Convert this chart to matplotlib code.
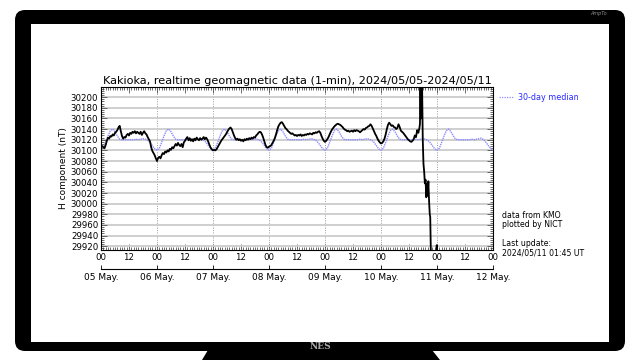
import numpy as np
import matplotlib
matplotlib.use("Agg")
import matplotlib.pyplot as plt
from matplotlib.patches import FancyBboxPatch, Polygon, Rectangle
from matplotlib.lines import Line2D
from matplotlib.ticker import MultipleLocator, FixedLocator

# H component, half-hour readings from 2024/05/05 00:00 (hours)
h_main = [
    # 05 May
    30110, 30108, 30106, 30104, 30110, 30118, 30124, 30122, 30127, 30126, 30130, 30128,
    30133, 30135, 30138, 30143, 30146, 30136, 30127, 30122, 30125, 30124, 30129, 30131,
    30128, 30133, 30131, 30135, 30133, 30136, 30132, 30135, 30133, 30131, 30135, 30129,
    30133, 30136, 30132, 30130, 30125, 30121, 30117, 30106, 30099, 30095, 30091, 30085,
    # 06 May
    30080, 30086, 30088, 30085, 30091, 30095, 30093, 30098, 30096, 30100, 30098, 30103,
    30101, 30106, 30104, 30108, 30112, 30109, 30114, 30110, 30108, 30112, 30106, 30115,
    30118, 30122, 30125, 30119, 30123, 30118, 30121, 30117, 30122, 30119, 30124, 30121,
    30119, 30123, 30120, 30122, 30125, 30121, 30124, 30121, 30116, 30110, 30105, 30102,
    # 07 May
    30100, 30101, 30100, 30102, 30106, 30110, 30114, 30118, 30121, 30124, 30127, 30130,
    30134, 30138, 30141, 30143, 30140, 30134, 30128, 30123, 30120, 30122, 30119, 30121,
    30118, 30120, 30117, 30121, 30119, 30122, 30120, 30123, 30121, 30124, 30122, 30125,
    30124, 30128, 30130, 30133, 30135, 30134, 30130, 30124, 30117, 30110, 30106, 30105,
    # 08 May
    30107, 30108, 30110, 30114, 30118, 30123, 30130, 30138, 30145, 30149, 30152, 30153,
    30150, 30146, 30142, 30140, 30137, 30135, 30133, 30131, 30132, 30130, 30128, 30129,
    30127, 30129, 30128, 30130, 30127, 30129, 30128, 30130, 30129, 30131, 30130, 30132,
    30131, 30130, 30133, 30132, 30134, 30133, 30135, 30136, 30133, 30127, 30122, 30118,
    # 09 May
    30116, 30118, 30121, 30125, 30130, 30135, 30139, 30142, 30145, 30147, 30149, 30150,
    30149, 30148, 30146, 30144, 30141, 30139, 30138, 30136, 30137, 30135, 30136, 30137,
    30135, 30138, 30136, 30138, 30137, 30136, 30134, 30136, 30138, 30140, 30139, 30142,
    30143, 30145, 30146, 30149, 30146, 30141, 30136, 30131, 30127, 30122, 30118, 30115,
    # 10 May
    30113, 30114, 30117, 30122, 30130, 30140, 30148, 30152, 30149, 30146, 30147, 30144,
    30143, 30140, 30142, 30149, 30144, 30137, 30135, 30133, 30130, 30127, 30124, 30121,
    30119, 30117, 30116, 30118, 30121, 30128, 30125, 30138, 30133, 30143,
]
h_main_time = np.arange(len(h_main)) * 0.5

# storm onset, 10 May evening
storm_time = [136.7, 136.9, 137.1, 137.3, 137.6, 137.9, 138.2, 138.5, 138.8, 139.1, 139.4, 139.7,
              140.0, 140.3, 140.6, 140.9, 141.1, 141.4, 142.5, 143.6, 143.9, 144.1, 145.0, 145.75]
storm_value = [30150, 30232, 30160, 30235, 30225, 30120, 30075, 30060, 30038, 30045, 30012, 30037,
               30015, 30042, 30005, 29980, 29975, 29900, 29885, 29900, 29922, 29900, 29880, 29870]

# 30-day median, hourly
median_rows = [
    [30102, 30104, 30115, 30127, 30137, 30140, 30135, 30127, 30121, 30120, 30120, 30120,
     30120, 30120, 30120, 30121, 30120, 30121, 30122, 30121, 30119, 30115, 30109, 30103],
    [30100, 30104, 30115, 30127, 30137, 30140, 30135, 30127, 30121, 30120, 30120, 30120,
     30120, 30120, 30120, 30121, 30120, 30121, 30122, 30121, 30119, 30115, 30109, 30103],
    [30100, 30104, 30115, 30127, 30137, 30140, 30135, 30127, 30121, 30120, 30120, 30120,
     30120, 30120, 30120, 30121, 30120, 30121, 30122, 30121, 30119, 30115, 30109, 30103],
    [30100, 30104, 30115, 30127, 30137, 30140, 30135, 30127, 30121, 30120, 30120, 30120,
     30120, 30120, 30120, 30121, 30120, 30121, 30122, 30121, 30119, 30115, 30109, 30103],
    [30100, 30104, 30115, 30127, 30137, 30140, 30135, 30127, 30121, 30120, 30120, 30120,
     30120, 30120, 30120, 30121, 30120, 30121, 30122, 30121, 30119, 30115, 30109, 30103],
    [30100, 30104, 30115, 30127, 30137, 30140, 30135, 30127, 30121, 30120, 30120, 30120,
     30120, 30120, 30120, 30121, 30120, 30121, 30122, 30121, 30119, 30115, 30109, 30103],
    [30100, 30104, 30115, 30127, 30137, 30140, 30135, 30127, 30121, 30120, 30120, 30120,
     30120, 30120, 30120, 30121, 30120, 30121, 30122, 30123, 30120, 30115, 30109, 30104],
]
median_end = 30100

day_labels = ["05 May.", "06 May.", "07 May.", "08 May.", "09 May.", "10 May.", "11 May.", "12 May."]
hour_labels = ["00", "12"]
y_ticks = list(range(29920, 30201, 20))

title = "Kakioka, realtime geomagnetic data (1-min), 2024/05/05-2024/05/11"
side_note = "data from KMO\nplotted by NICT\n\nLast update:\n2024/05/11 01:45 UT"

median_value = [v for row in median_rows for v in row] + [median_end]
median_time = np.arange(len(median_value))
day_pos = np.arange(len(day_labels)) * 24
med_color = "#8c8cff"

fig = plt.figure(figsize=(6.4, 3.6), dpi=100)

# monitor frame in pixel coords
bg = fig.add_axes([0, 0, 1, 1], zorder=0)
bg.set_xlim(0, 640)
bg.set_ylim(360, 0)
bg.axis("off")
bg.add_patch(FancyBboxPatch((15, 10), 610, 341, boxstyle="round,pad=0,rounding_size=10",
                            fc="black", ec="none"))
bg.add_patch(Rectangle((31, 24), 578, 318, fc="white", ec="none"))
bg.add_patch(Polygon([(208, 350), (432, 350), (440, 360), (202, 360)], closed=True,
                     fc="black", ec="none"))
bg.text(320, 346.5, "NES", ha="center", va="center", fontsize=6.5, fontweight="bold",
        family="DejaVu Serif", color="#a8a8a8")
bg.text(599, 14, "AmpTo", ha="center", va="center", fontsize=3.5, style="italic",
        color="#909090")
bg.add_line(Line2D([499, 513], [97, 97], color=med_color, lw=0.9, ls=(0, (1, 1))))
bg.text(518, 97, "30-day median", ha="left", va="center", fontsize=5.8, color="#2a2aff")
bg.text(502, 211, side_note, ha="left", va="top", fontsize=5.6, linespacing=1.05)

ax = fig.add_axes([101 / 640, 1 - 250 / 360, 392 / 640, 163 / 360], zorder=1)
ax.set_facecolor("none")

for d in day_pos[1:-1]:
    ax.axvline(d, color="#9a9a9a", lw=0.7, ls=(0, (1, 1.5)), zorder=1)
ax.grid(axis="y", which="major", color="#cccccc", lw=1.3, zorder=0)

ax.plot(median_time, median_value, color=med_color, lw=1.0, ls=(0, (1, 0.6)), zorder=2)
ax.plot(np.concatenate([h_main_time, storm_time]), h_main + storm_value,
        color="black", lw=1.3, zorder=3)

ax.set_xlim(0, 168)
ax.set_ylim(29913, 30219)
ax.xaxis.set_minor_locator(MultipleLocator(1))
ax.set_xticks(np.arange(0, 169, 12))
ax.set_xticklabels([hour_labels[i % 2] for i in range(15)])
ax.yaxis.set_major_locator(FixedLocator(y_ticks))
ax.yaxis.set_minor_locator(MultipleLocator(4))
ax.tick_params(which="both", direction="in", top=True, right=True, labelsize=6.2, pad=2,
               width=0.5, color="#333333")
ax.tick_params(which="major", length=4)
ax.tick_params(which="minor", length=2.5)
for s in ax.spines.values():
    s.set_linewidth(0.8)

ax.set_ylabel("H component (nT)", fontsize=6.5)
ax.yaxis.set_label_coords(-0.085, 0.5)
ax.set_title(title, fontsize=8.1, pad=2)

sec = ax.secondary_xaxis(-0.117)
sec.set_xticks(day_pos)
sec.set_xticklabels(day_labels)
sec.tick_params(direction="in", length=3, labelsize=6.5, pad=3, width=0.6)
sec.spines["bottom"].set_linewidth(0.8)

fig.savefig("out.png", dpi=100)
